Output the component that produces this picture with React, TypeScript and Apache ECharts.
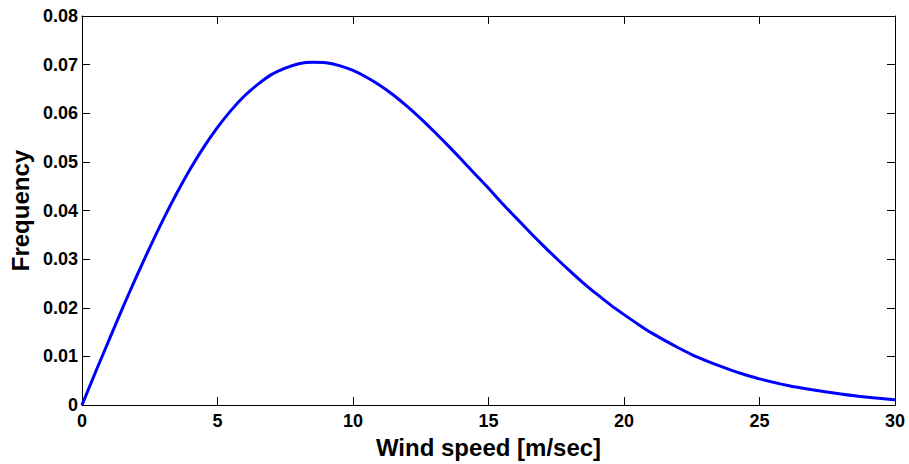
import React, { useEffect, useRef } from "react";
import * as echarts from "echarts";

const windSpeed: number[] = [
  0, 0.5, 1, 1.5, 2, 2.5, 3, 3.5, 4, 4.5, 5, 5.5, 6, 6.5, 7, 7.5, 8, 8.5, 9,
  9.5, 10, 10.5, 11, 11.5, 12, 12.5, 13, 13.5, 14, 14.5, 15, 15.5, 16, 16.5,
  17, 17.5, 18, 18.5, 19, 19.5, 20, 20.5, 21, 21.5, 22, 22.5, 23, 23.5, 24,
  24.5, 25, 26, 27, 28, 29, 30,
];

const frequency: number[] = [
  0, 0.0068, 0.0134, 0.02, 0.0263, 0.0324, 0.0382, 0.0436, 0.0486, 0.0531,
  0.0571, 0.0606, 0.0636, 0.066, 0.068, 0.0693, 0.0702, 0.0705, 0.0704,
  0.0698, 0.0688, 0.0674, 0.0657, 0.0637, 0.0614, 0.0589, 0.0562, 0.0534,
  0.0505, 0.0475, 0.0446, 0.0415, 0.0386, 0.0357, 0.0329, 0.0302, 0.0276,
  0.0251, 0.0228, 0.0206, 0.0186, 0.0167, 0.0149, 0.0133, 0.0118, 0.0104,
  0.0092, 0.0081, 0.0071, 0.0062, 0.0054, 0.0041, 0.0031, 0.0023, 0.0016,
  0.0011,
];

const xTicks = { min: 0, max: 30, interval: 5 };
const yTicks = { min: 0, max: 0.08, interval: 0.01 };

const FONT = "'Liberation Sans', Arial, Helvetica, sans-serif";

export default function App() {
  const ref = useRef<HTMLDivElement>(null);

  useEffect(() => {
    if (!ref.current) return;
    const chart = echarts.init(ref.current, null, { renderer: "svg" });
    const tickStyle = { color: "#000", width: 1 };
    const lineStyle = { color: "#000", width: 1 };
    chart.setOption({
      animation: false,
      backgroundColor: "#fff",
      grid: { left: 80, right: 14, top: 16, bottom: 55, containLabel: false },
      xAxis: [
        {
          type: "value",
          position: "bottom",
          min: xTicks.min,
          max: xTicks.max,
          interval: xTicks.interval,
          name: "Wind speed [m/sec]",
          nameLocation: "middle",
          nameGap: 24,
          nameTextStyle: {
            fontFamily: FONT,
            fontWeight: "bold",
            fontSize: 24,
            color: "#000",
          },
          axisLine: { show: true, onZero: false, lineStyle },
          axisTick: { show: true, inside: true, length: 8, lineStyle: tickStyle },
          axisLabel: {
            margin: 7,
            fontFamily: FONT,
            fontWeight: "bold",
            fontSize: 18,
            color: "#000",
          },
          splitLine: { show: false },
        },
        {
          type: "value",
          position: "top",
          min: xTicks.min,
          max: xTicks.max,
          interval: xTicks.interval,
          axisLine: { show: true, onZero: false, lineStyle },
          axisTick: { show: true, inside: true, length: 8, lineStyle: tickStyle },
          axisLabel: { show: false },
          splitLine: { show: false },
        },
      ],
      yAxis: [
        {
          type: "value",
          position: "left",
          min: yTicks.min,
          max: yTicks.max,
          interval: yTicks.interval,
          name: "Frequency",
          nameLocation: "middle",
          nameGap: 50,
          nameTextStyle: {
            fontFamily: FONT,
            fontWeight: "bold",
            fontSize: 24,
            color: "#000",
          },
          axisLine: { show: true, onZero: false, lineStyle },
          axisTick: { show: true, inside: true, length: 8, lineStyle: tickStyle },
          axisLabel: {
            margin: 4,
            fontFamily: FONT,
            fontWeight: "bold",
            fontSize: 18,
            color: "#000",
            formatter: (v: number) => (v === 0 ? "0" : v.toFixed(2)),
          },
          splitLine: { show: false },
        },
        {
          type: "value",
          position: "right",
          min: yTicks.min,
          max: yTicks.max,
          interval: yTicks.interval,
          axisLine: { show: true, onZero: false, lineStyle },
          axisTick: { show: true, inside: true, length: 8, lineStyle: tickStyle },
          axisLabel: { show: false },
          splitLine: { show: false },
        },
      ],
      series: [
        {
          type: "line",
          xAxisIndex: 0,
          yAxisIndex: 0,
          data: windSpeed.map((v, i) => [v, frequency[i]]),
          smooth: 0.3,
          showSymbol: false,
          symbol: "none",
          lineStyle: { color: "#0000ff", width: 3 },
          clip: false,
        },
      ],
    });
    return () => chart.dispose();
  }, []);

  return <div ref={ref} style={{ width: 909, height: 464, position: "absolute", left: 0, top: 0 }} />;
}
